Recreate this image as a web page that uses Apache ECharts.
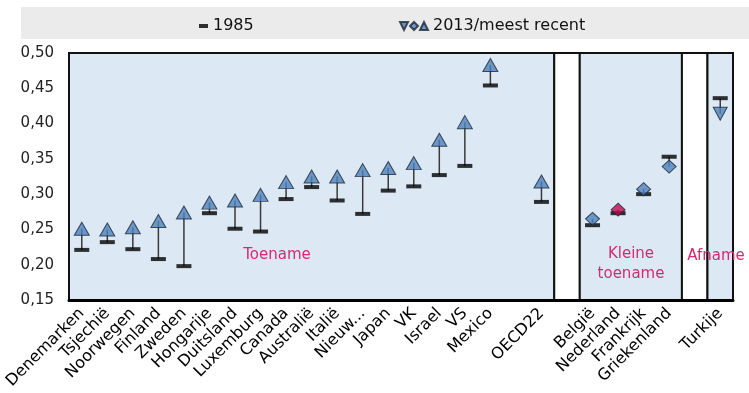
<!DOCTYPE html>
<html>
<head>
<meta charset="utf-8">
<script src="https://cdn.jsdelivr.net/npm/echarts@6/dist/echarts.min.js"></script>
<style>
  html, body { margin: 0; padding: 0; background: #ffffff; }
  #chart { width: 749px; height: 393px; }
</style>
</head>
<body>
<div id="chart"></div>
<script>
// Countries on the x axis; blank names are spacer slots between the groups.
const categories = ['Denemarken', 'Tsjechië', 'Noorwegen', 'Finland', 'Zweden', 'Hongarije',
  'Duitsland', 'Luxemburg', 'Canada', 'Australië', 'Italië', 'Nieuw...', 'Japan', 'VK',
  'Israel', 'VS', 'Mexico', ' ', 'OECD22', '  ', 'België', 'Nederland', 'Frankrijk',
  'Griekenland', '   ', 'Turkije'];

// Gini values, mid-1980s and most recent year (null for spacer slots).
const values1985 = [0.221, 0.232, 0.222, 0.208, 0.198, 0.273, 0.251, 0.247, 0.293, 0.310,
  0.291, 0.272, 0.305, 0.311, 0.327, 0.340, 0.454, null, 0.289, null, 0.256, 0.273, 0.300,
  0.353, null, 0.436];
const valuesRecent = [0.251, 0.250, 0.253, 0.262, 0.274, 0.288, 0.291, 0.299, 0.317, 0.325,
  0.325, 0.334, 0.337, 0.344, 0.377, 0.402, 0.483, null, 0.318, null, 0.265, 0.278, 0.307,
  0.339, null, 0.414];

// Trend groups (each gets its own shaded panel).
const groupToename = ['Denemarken', 'Tsjechië', 'Noorwegen', 'Finland', 'Zweden', 'Hongarije',
  'Duitsland', 'Luxemburg', 'Canada', 'Australië', 'Italië', 'Nieuw...', 'Japan', 'VK',
  'Israel', 'VS', 'Mexico', 'OECD22'];
const groupKleineToename = ['België', 'Nederland', 'Frankrijk', 'Griekenland'];
const groupAfname = ['Turkije'];
const highlighted = 'Nederland';

const yTicks = { min: 0.15, max: 0.50, step: 0.05 };

const BLUE = '#dde8f5';
const MARKER = '#4f81bd';
const MARKER_EDGE = '#1c2836';
const ACCENT = '#d42a72';
const FONT = 'DejaVu Sans';

function span(group) {
  const idx = group.map(n => categories.indexOf(n));
  return [Math.min(...idx), Math.max(...idx)];
}
const spans = [span(groupToename), span(groupKleineToename), span(groupAfname)];
// blue panels for the groups, white panels for the separator slots between them
const panels = [];
spans.forEach((s, k) => {
  panels.push({ from: s[0], to: s[1], fill: BLUE });
  if (k < spans.length - 1) panels.push({ from: s[1] + 1, to: spans[k + 1][0] - 1, fill: '#ffffff' });
});

function shapeFor(name) {
  if (groupKleineToename.includes(name)) return { symbol: 'diamond', symbolRotate: 0, symbolSize: [14, 13] };
  if (groupAfname.includes(name)) return { symbol: 'triangle', symbolRotate: 180, symbolSize: [14, 13] };
  return { symbol: 'triangle', symbolRotate: 0, symbolSize: [15, 13] };
}

const recentData = [];
const oldData = [];
const linkData = [];
categories.forEach((name, i) => {
  if (valuesRecent[i] == null) return;
  const s = shapeFor(name);
  recentData.push({
    value: [i, valuesRecent[i]],
    symbol: s.symbol, symbolRotate: s.symbolRotate, symbolSize: s.symbolSize,
    itemStyle: name === highlighted ? { color: '#c3084f' } : undefined
  });
  oldData.push([i, values1985[i]]);
  linkData.push([i, values1985[i], valuesRecent[i]]);
});

const chart = echarts.init(document.getElementById('chart'), null, { renderer: 'canvas' });

chart.setOption({
  animation: false,
  grid: { left: 69, top: 53, width: 664, height: 247 },
  graphic: [
    { type: 'rect', z: -10, shape: { x: 21, y: 7, width: 728, height: 32 }, style: { fill: '#ebebeb' } },
    { type: 'text', x: 277, y: 255, z: 50,
      style: { text: 'Toename', fill: ACCENT, font: '15px "DejaVu Sans"', align: 'center', verticalAlign: 'middle' } },
    { type: 'text', x: 631, y: 264, z: 50,
      style: { text: 'Kleine\ntoename', fill: ACCENT, font: '15px "DejaVu Sans"', align: 'center', verticalAlign: 'middle', lineHeight: 20 } },
    { type: 'text', x: 716, y: 256, z: 50,
      style: { text: 'Afname', fill: ACCENT, font: '15px "DejaVu Sans"', align: 'center', verticalAlign: 'middle' } }
  ],
  legend: [
    {
      data: ['1985'], left: 194, top: 13, icon: 'rect', itemWidth: 9, itemHeight: 4,
      selectedMode: false,
      textStyle: { fontFamily: FONT, fontSize: 16, color: '#111' }
    },
    {
      data: [{ name: '2013/meest recent',
        icon: 'path://M0,0L8,0L4,8Z M10,4L14,0L18,4L14,8Z M20,8L24,0L28,8Z' }],
      left: 394, top: 13, itemWidth: 28, itemHeight: 8,
      selectedMode: false,
      textStyle: { fontFamily: FONT, fontSize: 16, color: '#111' }
    }
  ],
  xAxis: {
    type: 'category',
    data: categories,
    boundaryGap: true,
    axisTick: { show: false },
    axisLine: { show: true, lineStyle: { color: '#000', width: 3 } },
    axisLabel: { interval: 0, rotate: 45, margin: 11, fontFamily: FONT, fontSize: 16, color: '#000' },
    splitLine: { show: false },
    z: 5
  },
  yAxis: {
    type: 'value',
    min: yTicks.min, max: yTicks.max, interval: yTicks.step,
    axisLine: { show: false },
    axisTick: { show: false },
    splitLine: { show: false },
    axisLabel: {
      margin: 15, fontFamily: FONT, fontSize: 15, color: '#222',
      formatter: v => v.toFixed(2).replace('.', ',')
    }
  },
  series: [
    {
      type: 'custom',
      name: 'panels',
      silent: true,
      z: 0,
      clip: false,
      data: panels.map(p => [p.from, p.to]),
      encode: { x: [0, 1] },
      renderItem(params, api) {
        const p = panels[params.dataIndex];
        const bw = api.size([1, 0])[0];
        const tl = api.coord([p.from, yTicks.max]);
        const br = api.coord([p.to, yTicks.min]);
        return {
          type: 'rect',
          shape: { x: tl[0] - bw / 2, y: tl[1], width: br[0] - tl[0] + bw, height: br[1] - tl[1] },
          style: { fill: p.fill, stroke: '#111', lineWidth: 2 }
        };
      }
    },
    {
      type: 'custom',
      name: 'links',
      silent: true,
      z: 2,
      data: linkData,
      encode: { x: 0, y: [1, 2] },
      renderItem(params, api) {
        const a = api.coord([api.value(0), api.value(1)]);
        const b = api.coord([api.value(0), api.value(2)]);
        return {
          type: 'line',
          shape: { x1: a[0], y1: a[1], x2: b[0], y2: b[1] },
          style: { stroke: '#3a3a3a', lineWidth: 1.5 }
        };
      }
    },
    {
      type: 'scatter',
      name: '1985',
      silent: true,
      z: 3,
      symbol: 'rect',
      symbolSize: [15, 4],
      itemStyle: { color: '#000' },
      data: oldData
    },
    {
      type: 'scatter',
      name: '2013/meest recent',
      silent: true,
      z: 4,
      itemStyle: { color: MARKER, borderColor: MARKER_EDGE, borderWidth: 1 },
      data: recentData
    }
  ]
});
</script>
</body>
</html>
